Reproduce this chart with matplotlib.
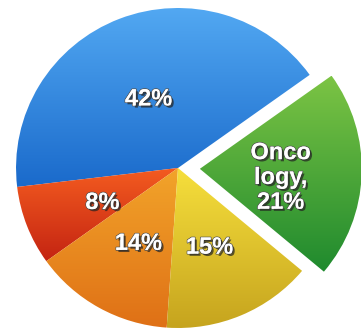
import numpy as np
import matplotlib.pyplot as plt
import matplotlib.patheffects as pe
from matplotlib.colors import LinearSegmentedColormap

# slice values (percent), drawn counter-clockwise from the Oncology slice
shares = [21, 42, 8, 14, 15]
names = ['Onco\nlogy,', None, None, None, None]
explode = [0.135, 0, 0, 0, 0]

# gradient colours per slice: lighter at the top, darker at the bottom
top_colors = ['#7cc444', '#52a8f2', '#f45c20', '#f2a42a', '#f6df3c']
bottom_colors = ['#1f8a2e', '#1a6acb', '#c42412', '#df7016', '#c6a41e']

fig = plt.figure(figsize=(3.61, 3.32), dpi=100)
ax = fig.add_axes([0, 0, 1, 1])

wedges, texts, autotexts = ax.pie(
    shares,
    explode=explode,
    startangle=-40,
    counterclock=True,
    autopct='%d%%',
    pctdistance=0.5,
    wedgeprops=dict(linewidth=0),
    textprops=dict(color='white', fontsize=17, fontweight='bold',
                   family='Liberation Sans'),
)

grad = np.linspace(0, 1, 256).reshape(-1, 1)
for w, c0, c1 in zip(wedges, top_colors, bottom_colors):
    w.set_facecolor('none')
    w.set_edgecolor('none')
    bb = w.get_path().get_extents()
    cmap = LinearSegmentedColormap.from_list('g', [c0, c1])
    im = ax.imshow(grad, cmap=cmap, aspect='auto',
                   extent=[bb.x0, bb.x1, bb.y0, bb.y1], zorder=0.5)
    im.set_clip_path(w)

shadow = [pe.withStroke(linewidth=1.2, foreground='#555555'),
          pe.SimplePatchShadow(offset=(1.5, -1.5), shadow_rgbFace='#222222',
                               alpha=0.7),
          pe.Normal()]
for t, name, v in zip(autotexts, names, shares):
    if name:
        t.set_text(f'{name}\n{v}%')
        t.set_linespacing(1.1)
    # labels sit slightly below the slice centroid
    x, y = t.get_position()
    t.set_position((x, y - 0.035))
    t.set_path_effects(shadow)
    t.set_zorder(5)

ax.set_xlim(-1.099, 1.130)
ax.set_ylim(-1.025, 1.05)
ax.set_aspect('auto')
ax.axis('off')

fig.savefig('out.png', dpi=100, facecolor='white')
